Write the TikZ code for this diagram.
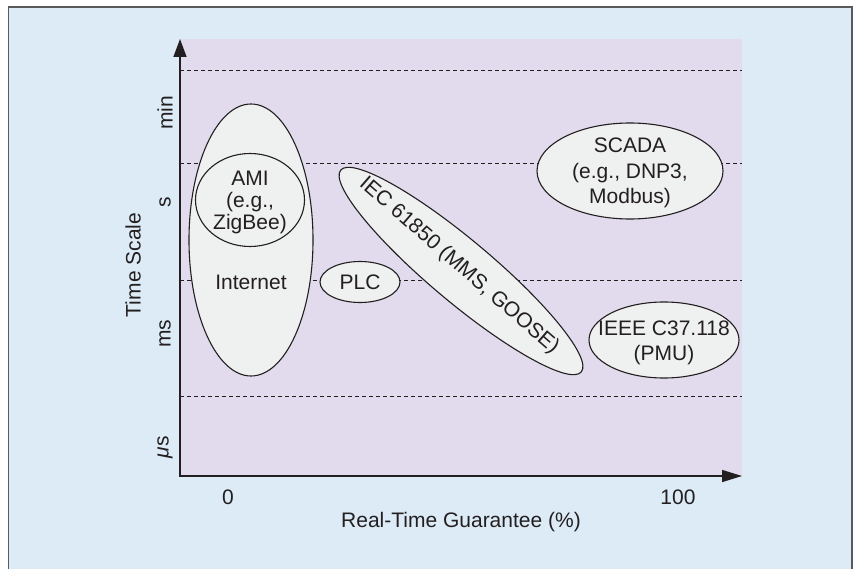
\documentclass[tikz,border=0pt]{standalone}
\usepackage{fontspec}
\setmainfont{Liberation Sans}
\usetikzlibrary{arrows.meta,shapes.geometric}

\definecolor{pagebg}{HTML}{DDEBF7}
\definecolor{plotbg}{HTML}{E2DBEE}
\definecolor{bubblefill}{HTML}{EFF0F0}
\definecolor{ink}{HTML}{231F20}
\definecolor{framegray}{HTML}{5A5A5A}

\tikzset{
  bubble/.style={ellipse, draw=ink, line width=1.1pt, fill=bubblefill, inner sep=0pt},
  lbl/.style={text=ink, align=center, inner sep=0pt},
  gridline/.style={draw=ink, line width=0.9pt, dash pattern=on 4pt off 3pt},
  axisline/.style={draw=ink, line width=1.5pt, {Triangle[length=18pt,width=13pt]}-{Triangle[length=20pt,width=12pt]}},
  ticklbl/.style={lbl, rotate=90}
}

\begin{document}
\begin{tikzpicture}[x=1pt, y=-1pt, font=\fontsize{21}{24}\selectfont]
\useasboundingbox (0,0) rectangle (858,569);
\clip (0,0) rectangle (858,569);
\fill[white] (0,0) rectangle (858,569);

% framed panel
\draw[framegray, line width=1.6pt, fill=pagebg] (8.5,7) rectangle (852,590);

% plotting area
\fill[plotbg] (180,39) rectangle (742,476);

% time-scale boundaries
\foreach \yy in {70,163,280,396} {
  \draw[gridline] (180,\yy) -- (742,\yy);
}

% axes
\coordinate (origin) at (180,476);
\coordinate (ytip) at (180,39);
\coordinate (xtip) at (742,476);
\draw[axisline] (ytip) -- (origin) -- (xtip);

% axis annotations
\node[ticklbl] (tmin) at (165,113) {min};
\node[ticklbl] (ts) at (165,202) {s};
\node[ticklbl] (tms) at (165,334) {ms};
\node[ticklbl] (tus) at (165,447) {{\itshape μ}s};
\node[ticklbl] (ytitle) at (133,265) {Time Scale};
\node[lbl] (x0) at (228,497) {0};
\node[lbl] (x100) at (678,497) {100};
\node[lbl] (xtitle) at (461,522) {Real-Time Guarantee (\%)};

% protocol regions
\node[bubble, minimum width=124pt, minimum height=272pt] (internet) at (251,240) {};
\node[lbl] (internetlbl) at (251,282) {Internet};
\node[bubble, minimum width=109pt, minimum height=93pt] (ami) at (250,200) {};
\node[lbl, font=\fontsize{21}{22}\selectfont, yshift=-2pt] (amilbl) at (ami.center) {AMI\\(e.g.,\\ZigBee)};

\node[bubble, minimum width=80pt, minimum height=41pt] (plc) at (360,282) {};
\node[lbl] (plclbl) at (plc.center) {PLC};

\node[bubble, minimum width=314pt, minimum height=62pt, rotate=-40] (iec) at (461,271) {};
\node[lbl, rotate=-41] (ieclbl) at (459,266) {IEC 61850 (MMS, GOOSE)};

\node[bubble, minimum width=186pt, minimum height=96pt] (scada) at (630,171) {};
\node[lbl, font=\fontsize{21}{25.5}\selectfont, yshift=-2pt] (scadalbl) at (scada.center) {SCADA\\(e.g., DNP3,\\Modbus)};

\node[bubble, minimum width=150pt, minimum height=76pt] (ieee) at (664,340) {};
\node[lbl, font=\fontsize{21}{25}\selectfont, yshift=-3pt] (ieeelbl) at (ieee.center) {IEEE C37.118\\(PMU)};
\end{tikzpicture}
\end{document}
